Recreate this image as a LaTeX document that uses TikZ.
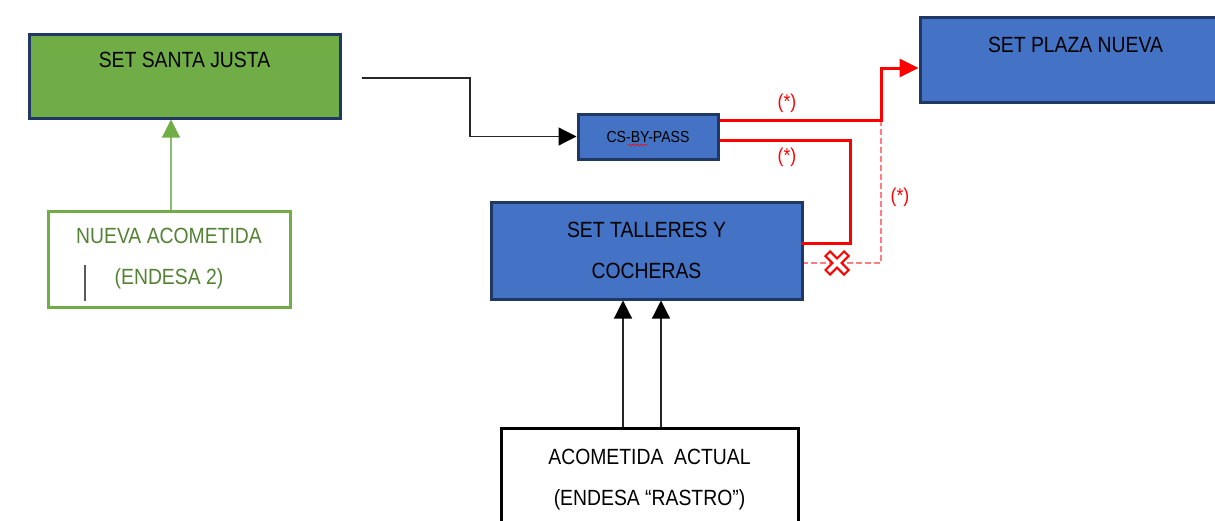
\documentclass[tikz,border=0pt]{standalone}
\usepackage{fontspec}
\setmainfont{Liberation Sans}[FakeStretch=0.88]
\usetikzlibrary{arrows.meta, decorations.pathmorphing}
\definecolor{boxblue}{HTML}{4472C4}
\definecolor{boxnavy}{HTML}{1F3864}
\definecolor{boxgreen}{HTML}{70AD47}
\definecolor{txtgreen}{HTML}{548235}
\definecolor{dashred}{HTML}{FF7C80}

\begin{document}
\begin{tikzpicture}[x=1pt, y=-1pt,
  every node/.style={font=\fontsize{22}{41}\selectfont, inner sep=0pt, align=center},
  bluebox/.style={draw=boxnavy, line width=3pt, fill=boxblue},
  greenbox/.style={draw=boxnavy, line width=3pt, fill=boxgreen},
  whitebox/.style={draw=#1, line width=3pt, fill=white},
  blkarrow/.style={draw=black!85, line width=1.2pt, -{Triangle[length=18pt, width=18pt, color=black]}},
  grnarrow/.style={draw=boxgreen!80, line width=1.2pt, -{Triangle[length=18pt, width=18pt, color=boxgreen]}},
  redline/.style={draw=red, line width=3pt},
  star/.style={text=red, font=\fontsize{20}{22}\selectfont}]
  \useasboundingbox (0,0) rectangle (1215,520);

  \node[greenbox, minimum width=311pt, minimum height=84pt] (sj) at (184.5,76) {};
  \node (sjt) at ([yshift=-27pt]sj.north) {SET SANTA JUSTA};
  \node[bluebox, minimum width=311pt, minimum height=85pt] (pn) at (1075.5,59.5) {};
  \node (pnt) at ([yshift=-29pt]pn.north) {SET PLAZA NUEVA};
  \node[bluebox, minimum width=140pt, minimum height=45pt, font=\fontsize{16}{18}\selectfont] (bp) at (648,136.5) {CS-BY-PASS};
  \node[bluebox, minimum width=311pt, minimum height=97pt] (ta) at (646.5,250.5) {SET TALLERES Y\\COCHERAS};
  \node[whitebox=boxgreen, minimum width=242pt, minimum height=96pt, text=txtgreen] (na) at (169,259) {NUEVA ACOMETIDA\\(ENDESA 2)};
  \node[whitebox=black, minimum width=297pt, minimum height=104pt] (aa) at (649.5,480) {ACOMETIDA~~ACTUAL\\(ENDESA “RASTRO”)};

  \draw[gray!70!black, line width=1.2pt] (85,265) -- (85,301);
  \draw[red, line width=0.6pt, decorate, decoration={snake, amplitude=1pt, segment length=4pt}] (628,145) -- (647,145);

  \draw[grnarrow] ([xshift=2pt]na.north) -- ([xshift=2pt]na.north |- sj.south);
  \coordinate (sjout) at (362,78);
  \draw[blkarrow] (sjout) -- (470,78) |- (bp.west);
  \draw[blkarrow] ([xshift=-26.5pt]aa.north) -- ([xshift=-26.5pt]aa.north |- ta.south);
  \draw[blkarrow] ([xshift=11.5pt]aa.north) -- ([xshift=11.5pt]aa.north |- ta.south);

  \coordinate (j1) at (881,120);
  \draw[draw=dashred, line width=1.6pt, dash pattern=on 6pt off 3pt] (j1) -- (881,263) -- ([yshift=-12.5pt]ta.east);
  \draw[redline, -{Triangle[length=19pt, width=18pt]}] ([yshift=16.5pt]bp.east) -- (j1) |- ([yshift=-8.5pt]pn.west);
  \draw[redline] ([yshift=-3.5pt]bp.east) -- (850,140) |- ([xshift=-3pt, yshift=7.5pt]ta.east);

  \coordinate (xm) at (837,263);
  \draw[red, line width=8.5pt] ([shift={(-10,-10)}]xm) -- ([shift={(10,10)}]xm) ([shift={(-10,10)}]xm) -- ([shift={(10,-10)}]xm);
  \draw[white, line width=4pt] ([shift={(-8.5,-8.5)}]xm) -- ([shift={(8.5,8.5)}]xm) ([shift={(-8.5,8.5)}]xm) -- ([shift={(8.5,-8.5)}]xm);

  \node[star] (s1) at (787,103) {(*)};
  \node[star] (s2) at (787,157) {(*)};
  \node[star] (s3) at (900,197) {(*)};
\end{tikzpicture}
\end{document}
